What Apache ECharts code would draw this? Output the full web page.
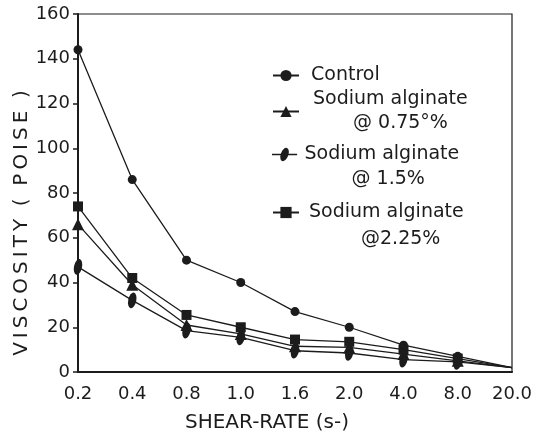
<!DOCTYPE html>
<html>
<head>
<meta charset="utf-8">
<script src="https://cdn.jsdelivr.net/npm/echarts@6/dist/echarts.min.js"></script>
<style>
  html, body { margin: 0; padding: 0; background: #fff; }
  #chart { width: 542px; height: 435px; }
</style>
</head>
<body>
<div id="chart"></div>
<script>
// Shear rates (s-) along the x axis
const shearRates = ['0.2', '0.4', '0.8', '1.0', '1.6', '2.0', '4.0', '8.0', '20.0'];

// Viscosity (poise) per treatment
const control     = [144, 86, 50, 40, 27, 20, 12, 7, 2];
const alginate075 = [66, 39, 21, 17, 11.5, 11, 8, 5, 2];
const alginate15  = [47, 32, 18.5, 15.5, 9.5, 8.5, 5.5, 4.5, 2];
const alginate225 = [74, 42, 25.5, 20, 14.5, 13.5, 10, 6, 2];

const yTicks = { min: 0, max: 160, interval: 20 };

const seriesNames = [
  'Control',
  'Sodium alginate @ 0.75°%',
  'Sodium alginate @ 1.5%',
  'Sodium alginate @ 2.25%'
];

const FONT = '"DejaVu Sans", sans-serif';
const INK = '#1c1c1c';

// lettered axis title: thin spaces between letters, wide gaps between words
function spaced(text) {
  return text.split(' ').map(w => w.split('').join('\u2009')).join('  ');
}

// the curves meet at the last shear rate without a marker
function points(values) {
  return values.map((v, i) => i === values.length - 1 ? { value: v, symbol: 'none' } : v);
}

function lineSeries(name, values, symbol, size, extra) {
  return Object.assign({
    name: name,
    type: 'line',
    data: points(values),
    symbol: symbol,
    symbolSize: size,
    showAllSymbol: true,
    lineStyle: { color: INK, width: 1.3 },
    itemStyle: { color: INK, borderWidth: 0 },
    emphasis: { disabled: true },
    animation: false
  }, extra || {});
}

// legend key for the 1.5 % curve: short rule crossed by a slanted ellipse
const ellipseKey = 'path://M0,6.1 L26,6.1 L26,7.9 L0,7.9 Z ' +
  'M15.5,0.2 A3.8,7 20 1,1 10.5,13.8 A3.8,7 20 1,1 15.5,0.2 Z';

const chart = echarts.init(document.getElementById('chart'), null, { renderer: 'canvas' });

const legendBase = {
  orient: 'vertical',
  left: 272,
  padding: 0,
  itemWidth: 26,
  itemHeight: 14,
  selectedMode: false,
  textStyle: { color: INK, fontFamily: FONT, fontSize: 19 }
};

function rich(styles) {
  const out = {};
  Object.keys(styles).forEach(k => {
    out[k] = Object.assign({ fontFamily: FONT, fontSize: 19, color: INK }, styles[k]);
  });
  return Object.assign({}, legendBase.textStyle, { rich: out });
}

chart.setOption({
  backgroundColor: '#fff',
  grid: {
    left: 78, right: 30, top: 14, bottom: 63,
    show: true, borderColor: INK, borderWidth: 1.2, backgroundColor: 'transparent'
  },
  xAxis: {
    type: 'category',
    data: shearRates,
    boundaryGap: false,
    axisLine: { lineStyle: { color: INK, width: 2 } },
    axisTick: { show: false },
    axisLabel: { color: INK, fontFamily: FONT, fontSize: 18, margin: 13 },
    splitLine: { show: false }
  },
  yAxis: {
    type: 'value',
    min: yTicks.min, max: yTicks.max, interval: yTicks.interval,
    axisLine: { show: true, lineStyle: { color: INK, width: 2 } },
    axisTick: { show: true, inside: false, length: 5, lineStyle: { color: INK, width: 1.5 } },
    axisLabel: { color: INK, fontFamily: FONT, fontSize: 18, margin: 8 },
    splitLine: { show: false }
  },
  legend: [
    Object.assign({}, legendBase, {
      data: [seriesNames[0]], top: 66,
      formatter: () => '{a|Control}',
      textStyle: rich({ a: { lineHeight: 20, padding: [0, 0, 0, 7] } })
    }),
    Object.assign({}, legendBase, {
      data: [seriesNames[1]], top: 90,
      formatter: () => '{a|Sodium alginate}\n{b|@ 0.75°%}',
      textStyle: rich({
        a: { lineHeight: 24, padding: [0, 0, 0, 9] },
        b: { lineHeight: 24, padding: [0, 0, 0, 49] }
      })
    }),
    Object.assign({}, legendBase, {
      data: [{ name: seriesNames[2], icon: ellipseKey }], top: 120,
      formatter: () => '{c| }\n{a|Sodium alginate}\n{b|@ 1.5%}',
      textStyle: rich({
        c: { lineHeight: 30 },
        a: { lineHeight: 20, padding: [0, 0, 0, 2] },
        b: { lineHeight: 30, padding: [0, 0, 0, 49] }
      })
    }),
    Object.assign({}, legendBase, {
      data: [seriesNames[3]], top: 176,
      formatter: () => '{c| }\n{a|Sodium alginate}\n{b|@2.25%}',
      textStyle: rich({
        c: { lineHeight: 34 },
        a: { lineHeight: 20, padding: [0, 0, 0, 5] },
        b: { lineHeight: 34, padding: [0, 0, 0, 57] }
      })
    })
  ],
  graphic: [
    {
      type: 'text',
      x: 22, y: 223,
      rotation: Math.PI / 2,
      style: {
        text: spaced('VISCOSITY ( POISE )'),
        fill: INK, font: '20px ' + FONT,
        textAlign: 'center', textVerticalAlign: 'middle'
      }
    },
    {
      type: 'text',
      x: 267, y: 423,
      style: {
        text: 'SHEAR-RATE (s-)',
        fill: INK, font: '20px ' + FONT,
        textAlign: 'center', textVerticalAlign: 'middle'
      }
    }
  ],
  series: [
    lineSeries(seriesNames[0], control, 'circle', 9),
    lineSeries(seriesNames[1], alginate075, 'triangle', 12),
    lineSeries(seriesNames[2], alginate15, 'circle', [8, 16], { symbolRotate: -12 }),
    lineSeries(seriesNames[3], alginate225, 'rect', 10)
  ]
});
</script>
</body>
</html>
